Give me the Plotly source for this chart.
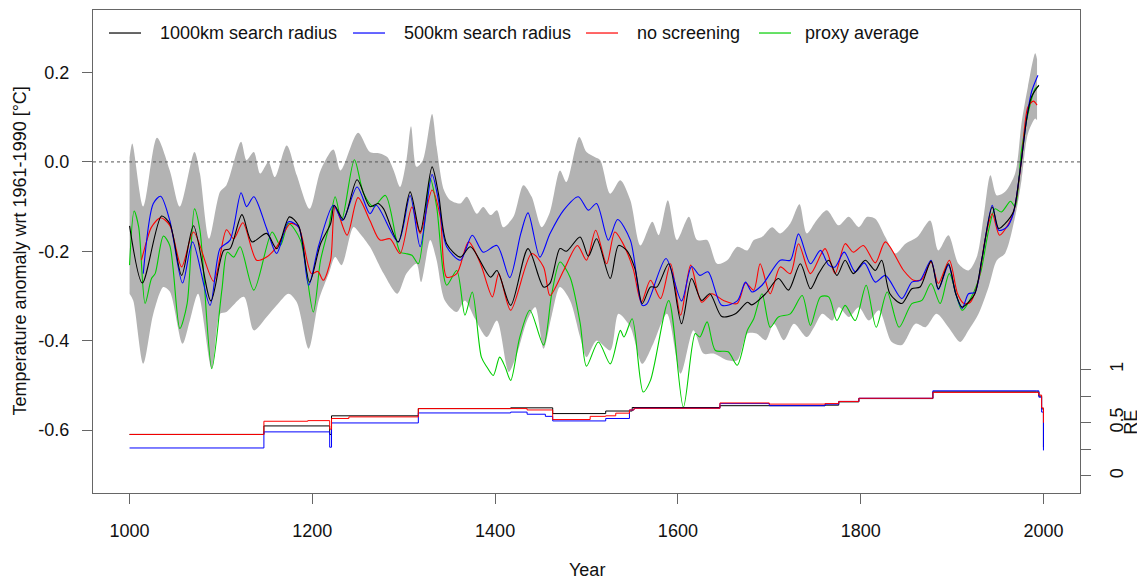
import plotly.graph_objects as go

# ---------------- data ----------------
black_year = [1000,1014,1035,1044,1057,1070,1089,1103,1110,1123,1134,1150,1161,1175,1185,1197,1209,1220,1224,1234,1249,
              1263,1272,1278,1294,1307,1318,1331,1338,1347,1362,1373,1395,1402,1417,1436,1453,1460,1471,1478,1493,1502,
              1511,1526,1535,1544,1553,1561,1570,1577,1590,1604,1615,1626,1635,1648,1663,1676,1681,1696,1710,1721,1734,
              1745,1754,1765,1774,1783,1792,1805,1816,1823,1832,1845,1856,1865,1877,1885,1896,1904,1911,1918,1925,1933,
              1944,1951,1958,1967,1974,1982,1987,1995]
black_temp = [-0.143,-0.271,-0.121,-0.138,-0.254,-0.143,-0.311,-0.198,-0.194,-0.118,-0.179,-0.160,-0.194,-0.123,-0.143,-0.269,-0.183,-0.138,-0.097,-0.129,-0.040,
              -0.100,-0.093,-0.105,-0.179,-0.067,-0.157,-0.011,-0.071,-0.183,-0.213,-0.190,-0.258,-0.243,-0.321,-0.194,-0.280,-0.272,-0.194,-0.200,-0.168,-0.211,
              -0.172,-0.261,-0.187,-0.198,-0.239,-0.317,-0.280,-0.280,-0.228,-0.362,-0.261,-0.310,-0.295,-0.346,-0.340,-0.314,-0.320,-0.295,-0.261,-0.287,-0.228,
              -0.284,-0.250,-0.220,-0.254,-0.220,-0.250,-0.220,-0.243,-0.220,-0.295,-0.317,-0.284,-0.280,-0.222,-0.284,-0.228,-0.295,-0.325,-0.314,-0.295,-0.213,
              -0.101,-0.149,-0.138,-0.112,-0.026,0.101,0.146,0.172]

blue_year = [1015,1026,1034,1044,1058,1069,1088,1099,1110,1122,1128,1136,1150,1161,1174,1185,1196,1207,1223,1233,1249,
             1263,1270,1294,1307,1318,1331,1338,1347,1362,1375,1387,1402,1416,1428,1436,1449,1460,1475,1491,1502,1511,
             1524,1534,1548,1561,1566,1587,1604,1615,1624,1633,1648,1665,1674,1681,1692,1712,1723,1732,1745,1756,1765,
             1772,1782,1794,1804,1816,1827,1845,1856,1865,1877,1885,1896,1904,1911,1918,1925,1933,1944,1951,1960,1967,
             1974,1982,1987,1994]
blue_temp = [-0.250,-0.093,-0.077,-0.131,-0.271,-0.179,-0.321,-0.194,-0.175,-0.069,-0.100,-0.078,-0.149,-0.205,-0.134,-0.146,-0.276,-0.187,-0.097,-0.131,-0.056,
             -0.116,-0.097,-0.179,-0.075,-0.190,-0.028,-0.086,-0.190,-0.220,-0.164,-0.202,-0.187,-0.259,-0.161,-0.114,-0.213,-0.161,-0.108,-0.078,-0.108,-0.093,
             -0.175,-0.129,-0.175,-0.321,-0.318,-0.216,-0.311,-0.234,-0.254,-0.246,-0.321,-0.311,-0.269,-0.291,-0.276,-0.220,-0.220,-0.161,-0.228,-0.198,-0.231,
             -0.235,-0.202,-0.246,-0.226,-0.269,-0.254,-0.306,-0.269,-0.265,-0.220,-0.286,-0.231,-0.295,-0.328,-0.295,-0.292,-0.213,-0.097,-0.153,-0.146,-0.116,
             -0.026,0.101,0.157,0.194]

red_year = [1013,1019,1024,1034,1044,1057,1070,1092,1106,1114,1124,1139,1150,1161,1176,1185,1199,1206,1212,1220,1225,1238,1250,
            1263,1274,1285,1296,1309,1318,1331,1340,1347,1358,1371,1384,1397,1404,1417,1440,1453,1460,1475,1490,1500,1510,
            1522,1531,1539,1551,1560,1570,1581,1592,1603,1614,1626,1637,1650,1665,1674,1683,1690,1701,1712,1723,1732,1745,
            1761,1772,1783,1792,1803,1816,1827,1847,1858,1867,1877,1885,1897,1906,1913,1920,1929,1936,1944,1952,1962,1968,
            1976,1983,1989,1993]
red_temp = [-0.220,-0.175,-0.146,-0.125,-0.142,-0.235,-0.157,-0.267,-0.152,-0.172,-0.136,-0.220,-0.213,-0.190,-0.138,-0.146,-0.250,-0.245,-0.265,-0.220,-0.100,-0.164,-0.080,
            -0.131,-0.175,-0.172,-0.205,-0.101,-0.160,-0.063,-0.123,-0.258,-0.250,-0.179,-0.228,-0.302,-0.250,-0.332,-0.205,-0.235,-0.299,-0.243,-0.187,-0.220,-0.153,
            -0.228,-0.157,-0.179,-0.239,-0.314,-0.265,-0.306,-0.228,-0.343,-0.231,-0.314,-0.295,-0.310,-0.317,-0.271,-0.287,-0.228,-0.295,-0.235,-0.250,-0.183,-0.250,
            -0.194,-0.250,-0.183,-0.202,-0.187,-0.226,-0.179,-0.243,-0.265,-0.263,-0.224,-0.272,-0.220,-0.295,-0.317,-0.314,-0.265,-0.175,-0.116,-0.164,-0.138,-0.108,
            0.004,0.123,0.136,0.127]

green_year = [1000,1005,1010,1017,1024,1028,1037,1044,1055,1063,1071,1077,1090,1101,1107,1114,1121,1136,1156,1165,1174,1187,1201,1209,1218,1225,1232,1246,
              1256,1267,1280,1296,1302,1309,1316,1329,1336,1347,1358,1367,1375,1385,1391,1398,1405,1411,1417,1427,1438,1453,1462,1471,1482,1493,1500,
              1513,1526,1537,1541,1550,1562,1570,1590,1606,1619,1624,1632,1641,1655,1665,1676,1683,1692,1701,1710,1723,1736,1745,1756,1765,1774,1783,
              1794,1806,1817,1829,1842,1856,1867,1877,1887,1897,1911,1922,1931,1940,1947,1954,1964,1969,1976,1984,1991,1995]
green_temp = [-0.231,-0.110,-0.146,-0.317,-0.261,-0.250,-0.166,-0.187,-0.373,-0.317,-0.105,-0.153,-0.463,-0.287,-0.202,-0.213,-0.190,-0.287,-0.157,-0.187,-0.138,-0.175,-0.336,-0.220,-0.146,-0.078,-0.131,0.005,
              -0.070,-0.100,-0.075,-0.202,-0.205,-0.209,-0.228,-0.037,-0.100,-0.276,-0.243,-0.343,-0.291,-0.437,-0.459,-0.478,-0.437,-0.459,-0.489,-0.392,-0.332,-0.410,-0.295,-0.224,-0.258,-0.360,-0.457,
              -0.403,-0.452,-0.377,-0.392,-0.351,-0.515,-0.489,-0.310,-0.549,-0.384,-0.392,-0.358,-0.422,-0.425,-0.455,-0.377,-0.351,-0.295,-0.370,-0.347,-0.340,-0.299,-0.366,-0.302,-0.302,-0.355,-0.321,
              -0.355,-0.276,-0.370,-0.291,-0.370,-0.317,-0.310,-0.272,-0.317,-0.250,-0.332,-0.299,-0.250,-0.153,-0.105,-0.112,-0.088,-0.100,0.026,0.116,0.164,0.170]

band_up_year = [1000,1003,1015,1030,1044,1055,1071,1077,1087,1099,1106,1122,1128,1136,1143,1152,1159,1172,1183,1197,1209,1223,1231,1250,
                1263,1274,1282,1289,1296,1303,1308,1314,1321,1331,1336,1344,1351,1362,1369,1380,1387,1395,1402,1409,1420,1431,1440,1451,1460,
                1471,1478,1492,1500,1509,1515,1526,1537,1548,1559,1572,1579,1589,1599,1612,1621,1632,1643,1654,1665,1676,1683,1692,1703,1712,
                1723,1733,1741,1752,1763,1776,1787,1798,1807,1816,1827,1838,1849,1862,1876,1885,1896,1907,1918,1927,1935,1942,1949,1958,1969,
                1976,1983,1991,1993]
band_up_temp = [0.010,0.041,-0.100,0.054,-0.019,-0.100,0.022,-0.026,-0.172,-0.067,-0.052,0.045,0.004,0.022,-0.026,0.000,-0.034,0.037,-0.030,-0.105,-0.019,0.028,-0.019,0.065,
                0.022,0.019,0.011,-0.019,-0.056,0.004,0.080,-0.011,0.004,0.107,0.034,-0.063,-0.086,-0.093,-0.078,-0.116,-0.101,-0.119,-0.108,-0.146,-0.123,-0.052,-0.078,-0.146,-0.112,
                -0.019,-0.045,0.056,0.022,0.011,0.004,-0.071,-0.041,-0.086,-0.187,-0.134,-0.164,-0.086,-0.175,-0.123,-0.175,-0.175,-0.228,-0.220,-0.190,-0.198,-0.175,-0.168,-0.146,-0.160,
                -0.138,-0.095,-0.160,-0.130,-0.108,-0.142,-0.123,-0.146,-0.123,-0.127,-0.168,-0.205,-0.183,-0.168,-0.131,-0.198,-0.164,-0.228,-0.243,-0.213,-0.116,-0.030,-0.075,-0.067,-0.026,
                0.086,0.168,0.243,0.230]

band_lo_year = [1000,1004,1015,1026,1037,1044,1058,1066,1075,1090,1099,1106,1125,1136,1150,1161,1174,1183,1196,1207,1218,1225,1232,1245,1252,
                1263,1278,1293,1303,1314,1319,1329,1336,1345,1358,1367,1378,1391,1402,1415,1424,1435,1444,1453,1462,1471,1482,1493,1500,
                1511,1526,1535,1548,1561,1573,1588,1603,1617,1628,1639,1654,1665,1676,1686,1696,1705,1716,1727,1741,1749,1758,1769,1776,
                1787,1798,1809,1820,1834,1845,1860,1871,1883,1896,1909,1918,1929,1940,1949,1958,1969,1976,1983,1991,1993]
band_lo_temp = [-0.295,-0.310,-0.452,-0.340,-0.280,-0.290,-0.407,-0.355,-0.295,-0.463,-0.340,-0.336,-0.302,-0.377,-0.347,-0.321,-0.295,-0.314,-0.418,-0.310,-0.250,-0.213,-0.231,-0.146,-0.160,
                -0.190,-0.250,-0.295,-0.250,-0.228,-0.269,-0.175,-0.220,-0.310,-0.336,-0.310,-0.351,-0.392,-0.355,-0.470,-0.429,-0.355,-0.325,-0.418,-0.343,-0.280,-0.310,-0.392,-0.437,
                -0.400,-0.422,-0.340,-0.370,-0.452,-0.407,-0.340,-0.474,-0.377,-0.429,-0.429,-0.444,-0.444,-0.384,-0.384,-0.399,-0.362,-0.399,-0.362,-0.392,-0.370,-0.340,-0.355,-0.325,
                -0.347,-0.325,-0.355,-0.332,-0.403,-0.410,-0.362,-0.370,-0.340,-0.370,-0.403,-0.377,-0.340,-0.280,-0.220,-0.205,-0.123,-0.041,0.063,0.097,0.093]

# RE (reduction of error) step series, right axis
re_black_year = [1000,1147,1219,1221,1316,1417,1463,1521,1550,1646,1761,1776,1798,1879,1992,1995,1998,2000]
re_black_val  = [0.39,0.47,0.39,0.565,0.633,0.64,0.586,0.61,0.643,0.66,0.665,0.696,0.727,0.79,0.79,0.75,0.63,0.27]
re_red_year = [1000,1147,1195,1219,1221,1240,1316,1435,1463,1504,1521,1532,1547,1552,1646,1700,1761,1776,1798,1879,1992,1995,1998,2000]
re_red_val  = [0.39,0.514,0.52,0.44,0.54,0.555,0.633,0.62,0.53,0.56,0.565,0.59,0.62,0.636,0.686,0.675,0.68,0.70,0.73,0.785,0.785,0.76,0.64,0.50]
re_blue_year = [1000,1147,1219,1221,1316,1417,1435,1455,1463,1521,1547,1552,1646,1700,1761,1776,1798,1879,1992,1995,1998,2000]
re_blue_val  = [0.263,0.414,0.27,0.498,0.592,0.60,0.58,0.56,0.517,0.54,0.62,0.636,0.68,0.66,0.675,0.70,0.73,0.80,0.80,0.74,0.60,0.24]

x_ticks = [1000, 1200, 1400, 1600, 1800, 2000]
y_ticks = [-0.6, -0.4, -0.2, 0.0, 0.2]
y_ticktext = ["-0.6", "-0.4", "-0.2", "0.0", "0.2"]
re_ticks = [0, 0.25, 0.5, 0.75, 1]
re_ticktext = ["0", "", "0.5", "", "1"]

series_names = ["1000km search radius", "500km search radius", "no screening", "proxy average"]
series_colors = ["#000000", "#0000ff", "#ff0000", "#00cd00"]

# ---------------- figure ----------------
FONT = "Liberation Sans, Arial, sans-serif"
AX = "#666666"
fig = go.Figure()

# uncertainty band
fig.add_trace(go.Scatter(x=band_lo_year, y=band_lo_temp, mode="lines",
                         line=dict(width=0, color="#b3b3b3", shape="spline", smoothing=0.8),
                         hoverinfo="skip", showlegend=False))
fig.add_trace(go.Scatter(x=band_up_year, y=band_up_temp, mode="lines", fill="tonexty",
                         fillcolor="#b3b3b3",
                         line=dict(width=0, color="#b3b3b3", shape="spline", smoothing=0.8),
                         hoverinfo="skip", showlegend=False))

# RE lines
for yr, val, col in [(re_black_year, re_black_val, "#000000"),
                     (re_blue_year, re_blue_val, "#0000ff"),
                     (re_red_year, re_red_val, "#ff0000")]:
    fig.add_trace(go.Scatter(x=yr, y=val, mode="lines", yaxis="y2",
                             line=dict(width=1, color=col, shape="hv"),
                             showlegend=False))

# reconstructions
for yr, val, name, col in [(green_year, green_temp, series_names[3], series_colors[3]),
                           (red_year, red_temp, series_names[2], series_colors[2]),
                           (blue_year, blue_temp, series_names[1], series_colors[1]),
                           (black_year, black_temp, series_names[0], series_colors[0])]:
    fig.add_trace(go.Scatter(x=yr, y=val, mode="lines", name=name,
                             line=dict(width=1.1, color=col, shape="spline", smoothing=0.8),
                             showlegend=False))

# The page body has an 8px margin, so the figure is drawn 8px in from the corner.
OFF = 8
W, H = 1145 - OFF, 581 - OFF
# plot box in figure pixels
L, R, T, B = 93 - OFF, 1080 - OFF, 10 - OFF, 492.7 - OFF
pw, ph = R - L, B - T

def px_x(px):
    return (px - OFF - L) / pw

def px_y(py):
    return (B - (py - OFF)) / ph

shapes = [dict(type="line", xref="paper", yref="y", x0=0, x1=1, y0=0, y1=0,
               line=dict(color="#555555", width=1, dash="dot"))]
annotations = []

# manual legend (top, inside box)
leg_samples = [(109, 141, 158), (353, 385, 402), (586, 618, 635), (759, 791, 803)]
for (s0, s1, tx), name, col in zip(leg_samples, series_names, series_colors):
    shapes.append(dict(type="line", xref="paper", yref="paper",
                       x0=px_x(s0), x1=px_x(s1), y0=px_y(33), y1=px_y(33),
                       line=dict(color=col, width=1.2)))
    annotations.append(dict(text=name, xref="paper", yref="paper", x=px_x(tx), y=px_y(33),
                            xanchor="left", yanchor="middle", showarrow=False,
                            font=dict(family=FONT, size=18, color="#111111")))

annotations.append(dict(text="Temperature anomaly wrt 1961-1990 [°C]", xref="paper", yref="paper",
                        x=px_x(19), y=0.5, textangle=-90, showarrow=False,
                        xanchor="center", yanchor="middle",
                        font=dict(family=FONT, size=18, color="#111111")))
annotations.append(dict(text="Year", xref="paper", yref="paper", x=0.5, y=px_y(570),
                        showarrow=False, xanchor="center", yanchor="middle",
                        font=dict(family=FONT, size=18, color="#111111")))
annotations.append(dict(text="RE", xref="paper", yref="y2", x=px_x(1131), y=0.5,
                        textangle=-90, showarrow=False, xanchor="center", yanchor="middle",
                        borderpad=0,
                        font=dict(family=FONT, size=18, color="#111111")))

fig.update_layout(
    width=W, height=H,
    margin=dict(l=L, r=W - R, t=T, b=H - B, pad=0),
    plot_bgcolor="white", paper_bgcolor="white",
    showlegend=False,
    font=dict(family=FONT, size=18, color="#111111"),
    shapes=shapes, annotations=annotations,
    xaxis=dict(range=[960, 2040], tickvals=x_ticks, ticks="outside", ticklen=10,
               tickcolor=AX, tickwidth=1, showline=True, linecolor=AX, linewidth=1, mirror=True,
               showgrid=False, zeroline=False, ticklabelstandoff=11,
               tickfont=dict(family=FONT, size=18, color="#111111")),
    yaxis=dict(range=[-0.741, 0.340], tickvals=y_ticks, ticktext=y_ticktext, ticks="outside",
               ticklen=10, tickcolor=AX, tickwidth=1, showline=True, linecolor=AX, linewidth=1,
               mirror=True, showgrid=False, zeroline=False, ticklabelstandoff=9,
               tickfont=dict(family=FONT, size=18, color="#111111")),
    yaxis2=dict(range=[-0.16, 4.377], overlaying="y", side="right", anchor="x",
                tickvals=re_ticks, ticktext=re_ticktext, tickangle=-90, ticks="outside",
                ticklen=10, tickcolor=AX, tickwidth=1, showline=False, showgrid=False,
                zeroline=False, ticklabelstandoff=10,
                tickfont=dict(family=FONT, size=18, color="#111111")),
)

fig.write_html("out.html")
